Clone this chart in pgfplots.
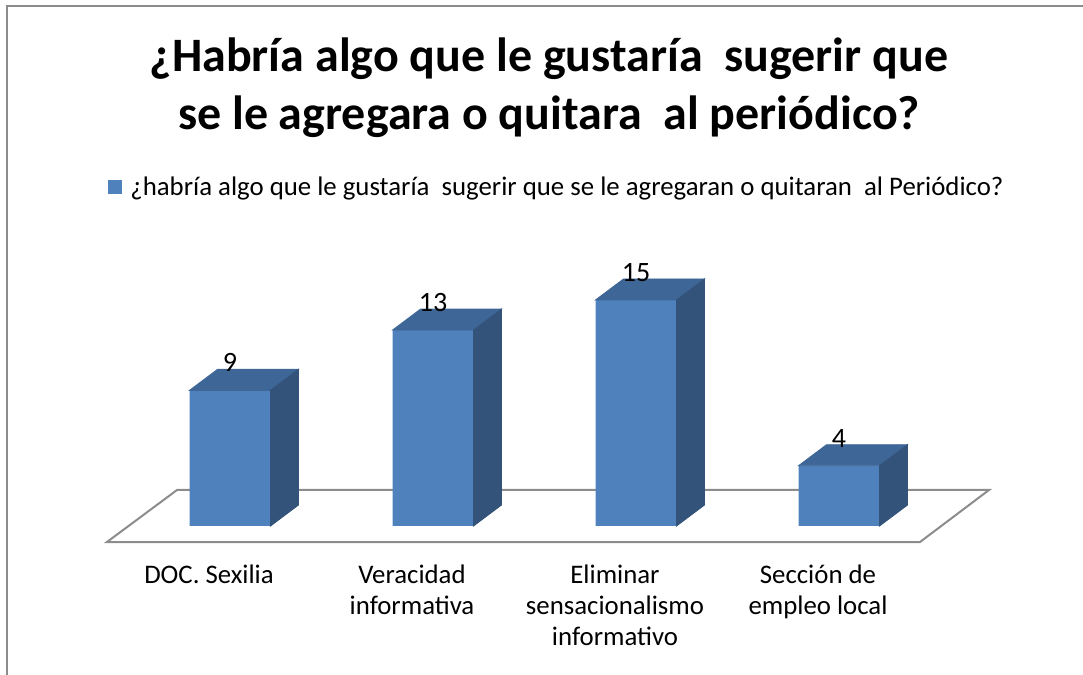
\documentclass[border=0pt]{standalone}
\usepackage{fontspec}
\setmainfont{Carlito}
\usepackage{pgfplots}
\pgfplotsset{compat=1.18}
\usepackage{pgfplotstable}

\definecolor{barfront}{RGB}{79,129,189}
\definecolor{bartop}{RGB}{62,102,150}
\definecolor{barside}{RGB}{51,83,122}
\definecolor{floorgray}{RGB}{140,140,140}

% respuestas por categoria
\pgfplotstableread{
x v
0 9
1 13
2 15
3 4
}\respuestas

\begin{document}
\begin{tikzpicture}
\useasboundingbox (0,0) rectangle (541.5pt,337.5pt);
% marco
\draw[floorgray, line width=0.75pt] (3.5pt,-1pt) -- (3.5pt,334.5pt) -- (542pt,334.5pt);
% titulo
\node[font=\fontsize{24}{29}\selectfont\bfseries, anchor=base, inner sep=0pt] at (274.5pt,301.5pt) {¿Habría algo que le gustaría~ sugerir que};
\node[font=\fontsize{24}{29}\selectfont\bfseries, anchor=base, inner sep=0pt] at (274.5pt,272.5pt) {se le agregara o quitara~ al periódico?};
% leyenda
\fill[barfront] (54pt,240.5pt) rectangle (61pt,247.5pt);
\node[font=\fontsize{13.4}{16}\selectfont, anchor=base west, inner sep=0pt] at (65pt,239.5pt) {¿habría algo que le gustaría~ sugerir que se le agregaran o quitaran~ al Periódico?};

\begin{axis}[
  at={(13.5pt,59.43pt)}, anchor=south west,
  x=101.5pt, y=7.535pt,
  xmin=-1, xmax=4, ymin=-2, ymax=24,
  enlargelimits=false, clip=false,
  axis line style={draw=none}, major tick length=0pt,
  ytick=\empty, xtick={0,1,2,3},
  xticklabels={DOC. Sexilia, Veracidad\\informativa, Eliminar\\sensacionalismo\\informativo, Sección de\\empleo local},
  xticklabel style={align=center, font=\fontsize{13.4}{15.5}\selectfont, xshift=-10.5pt, yshift=-1pt},
  /pgf/number format/assume math mode=true,
]
% piso
\draw[floorgray, line width=1pt] (axis cs:-0.606,-1.062) -- (axis cs:3.399,-1.062)
  -- (axis cs:3.739,2.389) -- (axis cs:-0.261,2.389) -- cycle;

% caras superior y lateral
\addplot[scatter, only marks, mark=*, mark size=0pt,
  mark options={draw=barfront, fill=barfront},
  visualization depends on={\thisrow{v} \as \val},
  scatter/@pre marker code/.code={%
    \fill[bartop] (-20.25pt,0pt) -- (20.25pt,0pt) -- (34.25pt,10.5pt) -- (-6.25pt,10.5pt) -- cycle;
    \fill[barside] (20.25pt,0pt) -- (34.25pt,10.5pt) -- (34.25pt,{(10.5-7.535*\val)*1pt}) -- (20.25pt,{-7.535*\val*1pt}) -- cycle;
  },
  scatter/@post marker code/.code={}
] table[x=x, y=v] {\respuestas};

% cara frontal
\addplot[ybar, bar width=40.5pt, fill=barfront, draw=none,
  nodes near coords,
  every node near coord/.append style={font=\fontsize{14}{16}\selectfont, text=black, inner sep=0pt, yshift=9pt}
] table[x=x, y=v] {\respuestas};
\end{axis}
\end{tikzpicture}
\end{document}
